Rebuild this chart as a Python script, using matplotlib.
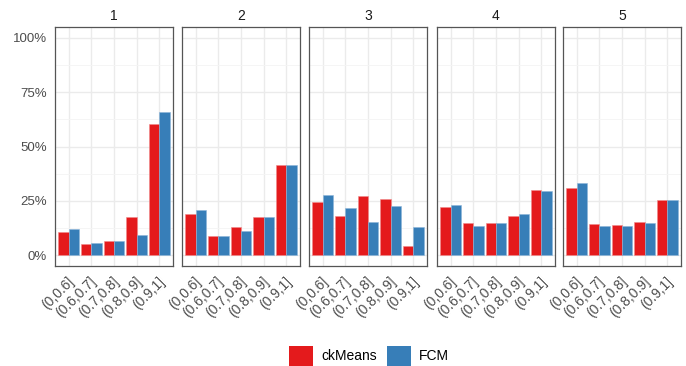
import numpy as np
import matplotlib
matplotlib.use("Agg")
import matplotlib.pyplot as plt
from matplotlib.patches import Patch
from matplotlib.transforms import ScaledTranslation

plt.rcParams['font.family'] = ['Liberation Sans', 'DejaVu Sans']

# facets, bins and the two methods
facets = ["1", "2", "3", "4", "5"]
bins = ["(0,0.6]", "(0.6,0.7]", "(0.7,0.8]", "(0.8,0.9]", "(0.9,1]"]
methods = ["ckMeans", "FCM"]
colors = ["#E41A1C", "#377EB8"]

# share of items per bin (%) for each facet
ckmeans = [
    [10.5, 5.2, 6.7, 17.4, 60.2],
    [19.0, 9.0, 13.0, 17.6, 41.4],
    [24.5, 18.0, 27.2, 26.0, 4.3],
    [22.2, 14.6, 15.0, 18.2, 30.0],
    [31.0, 14.3, 13.8, 15.4, 25.5],
]
fcm = [
    [12.2, 5.8, 6.7, 9.3, 66.0],
    [20.8, 9.0, 11.2, 17.6, 41.4],
    [27.7, 21.6, 15.4, 22.5, 12.8],
    [23.0, 13.5, 15.0, 19.1, 29.4],
    [33.2, 13.3, 13.3, 15.0, 25.2],
]

yticks = [0, 25, 50, 75, 100]
ytick_labels = ["0%", "25%", "50%", "75%", "100%"]

W, H = 686, 366
fig = plt.figure(figsize=(W / 100, H / 100), dpi=100)

lefts = [55, 182, 309, 437, 563]
pw = 118
top, bottom = 27, 266
x = np.arange(1, len(bins) + 1)
bw = 0.45

for i, f in enumerate(facets):
    ax = fig.add_axes([lefts[i] / W, 1 - bottom / H, pw / W, (bottom - top) / H])
    ax.set_xlim(0.4, 5.6)
    ax.set_ylim(-5, 105)
    ax.set_yticks(yticks)
    ax.set_yticks([12.5, 37.5, 62.5, 87.5], minor=True)
    ax.set_xticks(x)
    ax.grid(True, which='major', color='#EBEBEB', lw=1.0)
    ax.grid(True, which='minor', axis='y', color='#F4F4F4', lw=0.6)
    ax.set_axisbelow(True)
    ax.bar(x - bw / 2, ckmeans[i], width=bw, color=colors[0], edgecolor='#F08A8B', lw=0.4)
    ax.bar(x + bw / 2, fcm[i], width=bw, color=colors[1], edgecolor='#8DB5D8', lw=0.4)
    for s in ax.spines.values():
        s.set_color('#555555')
        s.set_linewidth(0.9)
    ax.tick_params(which='both', length=0)
    ax.tick_params(axis='x', colors='#4D4D4D', labelsize=10, pad=6)
    ax.set_xticklabels(bins, rotation=45, ha='right', rotation_mode='anchor')
    shift = ScaledTranslation(-2 / 100, 0, fig.dpi_scale_trans)
    for lab in ax.get_xticklabels():
        lab.set_transform(lab.get_transform() + shift)
    if i == 0:
        ax.set_yticklabels(ytick_labels, color='#4D4D4D', fontsize=9.5)
        ax.tick_params(axis='y', pad=6)
    else:
        ax.set_yticklabels([])
    ax.set_title(f, fontsize=10, color='#1A1A1A', pad=5)

handles = [Patch(facecolor=c, edgecolor='none') for c in colors]
fig.legend(handles, methods, loc='lower center', bbox_to_anchor=(369 / W, -0.035), ncol=2,
           frameon=False, fontsize=10, handlelength=1.75, handleheight=1.9,
           columnspacing=0.7, handletextpad=0.6)

fig.savefig("out.png", dpi=100)
